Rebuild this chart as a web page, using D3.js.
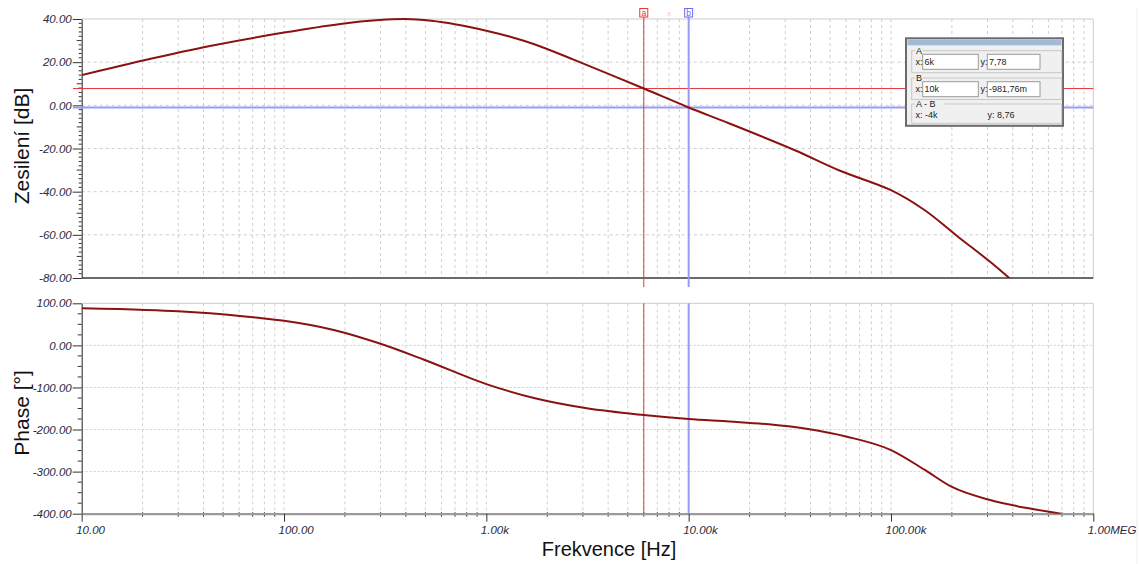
<!DOCTYPE html>
<html><head><meta charset="utf-8">
<script src="https://cdn.jsdelivr.net/npm/d3@7"></script>
<style>
html,body{margin:0;padding:0;background:#fff;}
svg{display:block;font-family:"Liberation Sans",Arial,sans-serif;}
</style></head>
<body>
<svg id="c" width="1141" height="564"></svg>
<script>
// ---- data ----
const magFreq = [10, 20.6, 43, 100, 190, 295, 396, 534, 700, 1000, 1300, 1740, 2700, 6000, 10000, 15900, 33500, 56000, 100000, 147000, 212000, 309000, 384000, 450000];
const magDb   = [14.0, 21.0, 27.5, 33.7, 37.7, 39.5, 40.0, 39.2, 37.6, 34.6, 31.9, 28.2, 21.2, 7.78, -0.98, -8.4, -20.8, -30.3, -39.3, -48.6, -60.5, -72.5, -80.0, -85.5];
const phFreq  = [10, 20.6, 29.9, 43, 72.5, 100, 176, 295, 496, 1000, 1740, 3140, 6000, 10000, 15900, 24900, 38900, 60600, 100000, 147000, 199000, 309000, 479000, 692000];
const phDeg   = [88, 84.2, 81, 76.2, 66, 58.5, 36.6, 4.9, -34.7, -92, -125.8, -149.6, -165.5, -175, -181, -187.6, -198.7, -217, -248.7, -296, -335.8, -367.5, -387.3, -400];
const xTickValues = [10, 100, 1000, 10000, 100000, 1000000];
const xTickLabels = ["10.00", "100.00", "1.00k", "10.00k", "100.00k", "1.00MEG"];
const magTickValues = [40, 20, 0, -20, -40, -60, -80];
const magTickLabels = ["40.00", "20.00", "0.00", "-20.00", "-40.00", "-60.00", "-80.00"];
const phTickValues = [100, 0, -100, -200, -300, -400];
const phTickLabels = ["100.00", "0.00", "-100.00", "-200.00", "-300.00", "-400.00"];
const cursorAFreq = 6000, cursorADb = 7.78;
const cursorBFreq = 10000, cursorBDb = -0.98176;
const cursorATexts = ["6k", "7,78"];
const cursorBTexts = ["10k", "-981,76m"];
const cursorDiffTexts = ["-4k", "8,76"];
const yTitleMag = "Zesilení [dB]", yTitlePh = "Phase [°]", xTitle = "Frekvence [Hz]";

// ---- layout ----
const L = 81.7, R = 1093.3;
const mTop = 19, mBot = 278, pTop = 303.3, pBot = 513.7;
const svg = d3.select("#c");
const x = d3.scaleLog().domain([10, 1e6]).range([L, R]);
const yM = d3.scaleLinear().domain([-80, 40]).range([mBot, mTop]);
const yP = d3.scaleLinear().domain([-400, 100]).range([pBot, pTop]);

const defs = svg.append("defs");
defs.append("clipPath").attr("id", "clipM").append("rect").attr("x", L).attr("y", mTop - 2).attr("width", R - L).attr("height", mBot - mTop + 2);
defs.append("clipPath").attr("id", "clipP").append("rect").attr("x", L).attr("y", pTop - 2).attr("width", R - L).attr("height", pBot - pTop + 2);

const minorFreqs = [];
for (let d = 10; d < 1e6; d *= 10) for (let k = 2; k <= 9; k++) minorFreqs.push(d * k);
const gridFreqs = minorFreqs.concat(xTickValues.slice(1, -1));

function panel(y, top, bot, gridVals, dash) {
  const g = svg.append("g");
  g.selectAll("line.vg").data(gridFreqs).enter().append("line")
    .attr("x1", d => x(d)).attr("x2", d => x(d)).attr("y1", top).attr("y2", bot)
    .attr("stroke", "#cfcfcf").attr("stroke-width", 1).attr("stroke-dasharray", "3,3");
  g.selectAll("line.hg").data(gridVals).enter().append("line")
    .attr("x1", L).attr("x2", R).attr("y1", d => y(d)).attr("y2", d => y(d))
    .attr("stroke", "#cfcfcf").attr("stroke-width", 1).attr("stroke-dasharray", dash);
  g.append("line").attr("x1", L).attr("x2", R).attr("y1", top).attr("y2", top).attr("stroke", "#cccccc");
  g.append("line").attr("x1", R).attr("x2", R).attr("y1", top).attr("y2", bot).attr("stroke", "#cccccc");
}
panel(yM, mTop, mBot, [20, 0, -20, -40, -60], "3,3");
panel(yP, pTop, pBot, [0, -100, -200, -300], "2,2");

svg.append("line").attr("x1", 1137).attr("x2", 1137).attr("y1", 8).attr("y2", 564).attr("stroke", "#ececec");

// ---- y minor ticks ----
const magMinor = d3.range(-80, 41, 2).filter(v => v % 20 !== 0);
svg.append("g").selectAll("line").data(magMinor).enter().append("line")
  .attr("x1", d => L - (d % 10 === 0 ? 5 : 3)).attr("x2", L).attr("y1", d => yM(d)).attr("y2", d => yM(d))
  .attr("stroke", "#333").attr("stroke-width", 1);
const phMinor = d3.range(-400, 101, 25).filter(v => v % 100 !== 0);
svg.append("g").selectAll("line").data(phMinor).enter().append("line")
  .attr("x1", L - 4).attr("x2", L).attr("y1", d => yP(d)).attr("y2", d => yP(d))
  .attr("stroke", "#333").attr("stroke-width", 1);

function styleYAxis(g, labels) {
  g.select(".domain").attr("stroke", "#444").attr("stroke-width", 1.2);
  g.selectAll(".tick line").attr("stroke", "#333");
  g.selectAll(".tick text").text((d, i) => labels[i])
    .attr("font-family", "'Liberation Sans',Arial,sans-serif").attr("font-style", "italic")
    .attr("font-size", 11.5).attr("fill", "#2a2a3e");
}
svg.append("g").attr("transform", `translate(${L},0)`)
  .call(d3.axisLeft(yM).tickValues(magTickValues).tickSize(9).tickSizeOuter(0).tickPadding(1))
  .call(g => styleYAxis(g, magTickLabels));
svg.append("g").attr("transform", `translate(${L},0)`)
  .call(d3.axisLeft(yP).tickValues(phTickValues).tickSize(9).tickSizeOuter(0).tickPadding(1))
  .call(g => styleYAxis(g, phTickLabels));

svg.append("line").attr("x1", L).attr("x2", R).attr("y1", mBot).attr("y2", mBot).attr("stroke", "#3a3a3a").attr("stroke-width", 1.5);

// ---- x axis (bottom panel) ----
svg.append("g").selectAll("line").data(minorFreqs).enter().append("line")
  .attr("x1", d => x(d)).attr("x2", d => x(d)).attr("y1", pBot - 1.5).attr("y2", pBot + 3)
  .attr("stroke", "#333").attr("stroke-width", 1);
const xa = svg.append("g").attr("transform", `translate(0,${pBot})`)
  .call(d3.axisBottom(x).tickValues(xTickValues).tickSize(8).tickSizeOuter(0));
xa.select(".domain").attr("stroke", "#9a9a9a").attr("stroke-width", 2.2);
xa.selectAll(".tick line").attr("stroke", "#333");
xa.selectAll(".tick text").text((d, i) => xTickLabels[i])
  .attr("text-anchor", "start").attr("x", -6).attr("y", 20.3).attr("dy", 0)
  .attr("font-family", "'Liberation Sans',Arial,sans-serif").attr("font-style", "italic")
  .attr("font-size", 11.5).attr("fill", "#2a2a3e");

// ---- cursor lines ----
const xa_ = x(cursorAFreq), xb_ = x(cursorBFreq);
svg.append("line").attr("x1", 73).attr("x2", R).attr("y1", yM(cursorADb)).attr("y2", yM(cursorADb)).attr("stroke", "#e03a3a").attr("stroke-width", 1);
svg.append("line").attr("x1", 73).attr("x2", R).attr("y1", yM(cursorBDb)).attr("y2", yM(cursorBDb)).attr("stroke", "#9a9af2").attr("stroke-width", 2);
[[17, 287], [pTop, pBot]].forEach(([a, b]) => {
  svg.append("line").attr("x1", xa_).attr("x2", xa_).attr("y1", a).attr("y2", b).attr("stroke", "#e03a3a").attr("stroke-width", 1);
  svg.append("line").attr("x1", xb_).attr("x2", xb_).attr("y1", a).attr("y2", b).attr("stroke", "#9a9af2").attr("stroke-width", 2);
});
function marker(cx, col, letter) {
  svg.append("rect").attr("x", cx - 4).attr("y", 8.5).attr("width", 8).attr("height", 8.5)
    .attr("fill", "#fff").attr("stroke", col).attr("stroke-width", 1);
  svg.append("text").attr("x", cx).attr("y", 15.5).attr("text-anchor", "middle")
    .attr("font-size", 8.5).attr("fill", col).text(letter);
}
marker(xa_, "#e03a3a", "a");
marker(xb_, "#6a6af0", "b");
svg.append("text").attr("x", (xa_ + xb_) / 2 + 3).attr("y", 16).attr("text-anchor", "middle")
  .attr("font-size", 8).attr("fill", "#f4c8c8").text("x");

// ---- curves ----
const magLine = d3.line().x(d => x(d[0])).y(d => yM(d[1])).curve(d3.curveCatmullRom.alpha(0.5));
const phLine = d3.line().x(d => x(d[0])).y(d => yP(d[1])).curve(d3.curveMonotoneX);
svg.append("path").datum(d3.zip(magFreq, magDb)).attr("d", magLine).attr("clip-path", "url(#clipM)")
  .attr("fill", "none").attr("stroke", "#8b1212").attr("stroke-width", 2);
svg.append("path").datum(d3.zip(phFreq, phDeg)).attr("d", phLine).attr("clip-path", "url(#clipP)")
  .attr("fill", "none").attr("stroke", "#8b1212").attr("stroke-width", 2);

// ---- titles ----
svg.append("text").attr("transform", "translate(28.5,146) rotate(-90)").attr("text-anchor", "middle")
  .attr("font-size", 21).attr("fill", "#111").text(yTitleMag);
svg.append("text").attr("transform", "translate(28.5,413) rotate(-90)").attr("text-anchor", "middle")
  .attr("font-size", 21).attr("fill", "#111").text(yTitlePh);
svg.append("text").attr("x", 609).attr("y", 556).attr("text-anchor", "middle")
  .attr("font-size", 20).attr("fill", "#111").text(xTitle);

// ---- cursor readout box ----
const bx = 906, by = 38.3, bw = 157, bh = 87.5;
const box = svg.append("g").attr("font-family", "'Liberation Sans',Arial,sans-serif").attr("font-size", 9).attr("fill", "#222");
box.append("rect").attr("x", bx).attr("y", by).attr("width", bw).attr("height", bh).attr("fill", "#f0f0f0").attr("stroke", "#6a6a6a").attr("stroke-width", 2);
box.append("rect").attr("x", bx + 1.5).attr("y", by + 1.5).attr("width", bw - 3).attr("height", 5.5).attr("fill", "#a3bad6");
function group(top, bottom, label) {
  box.append("rect").attr("x", 911.7).attr("y", top).attr("width", 150).attr("height", bottom - top)
    .attr("fill", "none").attr("stroke", "#c8c8c8").attr("stroke-width", 1);
  box.append("rect").attr("x", 915).attr("y", top - 4).attr("width", label.length * 5.5 + 2).attr("height", 7).attr("fill", "#f0f0f0");
  box.append("text").attr("x", 916).attr("y", top + 3).text(label);
}
function inputs(top, texts) {
  box.append("rect").attr("x", 922.7).attr("y", top).attr("width", 55.6).attr("height", 15).attr("fill", "#fff").attr("stroke", "#9a9a9a");
  box.append("rect").attr("x", 987.3).attr("y", top).attr("width", 52.7).attr("height", 15).attr("fill", "#fff").attr("stroke", "#9a9a9a");
  box.append("text").attr("x", 915.5).attr("y", top + 10.5).text("x:");
  box.append("text").attr("x", 980.5).attr("y", top + 10.5).text("y:");
  box.append("text").attr("x", 924.5).attr("y", top + 10.5).text(texts[0]);
  box.append("text").attr("x", 989).attr("y", top + 10.5).text(texts[1]);
}
group(50.7, 72.7, "A");
inputs(54.3, cursorATexts);
group(78, 99.5, "B");
inputs(81.7, cursorBTexts);
group(104, 123.3, "A - B");
box.append("text").attr("x", 915.5).attr("y", 118).text("x:  " + cursorDiffTexts[0]);
box.append("text").attr("x", 987.5).attr("y", 118).text("y: " + cursorDiffTexts[1]);
</script>
</body></html>
